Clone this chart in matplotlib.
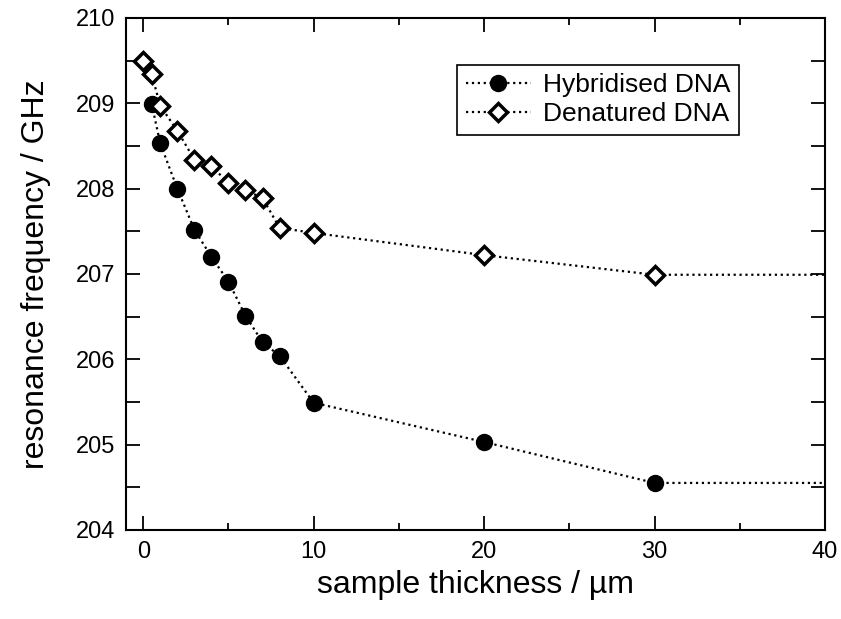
import matplotlib
matplotlib.use("Agg")
import matplotlib.pyplot as plt
from matplotlib.ticker import MultipleLocator

plt.rcParams['font.family'] = ['Liberation Sans', 'DejaVu Sans']

# Data
hyb_x = [0.5, 1, 2, 3, 4, 5, 6, 7, 8, 10, 20, 30]
hyb_y = [208.99, 208.53, 208.00, 207.52, 207.20, 206.91, 206.51, 206.20, 206.04, 205.49, 205.03, 204.55]
den_x = [0, 0.5, 1, 2, 3, 4, 5, 6, 7, 8, 10, 20, 30]
den_y = [209.50, 209.34, 208.97, 208.68, 208.34, 208.26, 208.07, 207.98, 207.89, 207.54, 207.48, 207.22, 206.99]
x_end = 40  # lines continue flat to the edge of the axis
labels = ["Hybridised DNA", "Denatured DNA"]

fig = plt.figure(figsize=(8.41, 6.19), dpi=100)
ax = fig.add_axes([0.150, 0.144, 0.831, 0.827])

ax.plot(hyb_x + [x_end], hyb_y + [hyb_y[-1]], linestyle=':', color='black', lw=1.6,
        marker='o', markersize=11.5, markerfacecolor='black', markeredgecolor='black',
        markevery=list(range(len(hyb_x))), label=labels[0], zorder=3)
ax.plot(den_x + [x_end], den_y + [den_y[-1]], linestyle=':', color='black', lw=1.6,
        marker='D', markersize=9.5, markerfacecolor='white', markeredgecolor='black',
        markeredgewidth=2.5, markevery=list(range(len(den_x))), label=labels[1], zorder=4)

ax.set_xlim(-1, 40)
ax.set_ylim(204, 210)

ax.xaxis.set_major_locator(MultipleLocator(10))
ax.xaxis.set_minor_locator(MultipleLocator(5))
ax.yaxis.set_major_locator(MultipleLocator(1))
ax.yaxis.set_minor_locator(MultipleLocator(0.5))

ax.tick_params(which='both', direction='in', top=True, right=True, width=1.3, labelsize=17)
ax.tick_params(axis='x', which='major', length=10, pad=8)
ax.tick_params(axis='x', which='minor', length=5)
ax.tick_params(axis='y', which='both', length=10, pad=8)

for s in ax.spines.values():
    s.set_linewidth(1.5)

ax.set_xlabel("sample thickness / µm", fontsize=23, labelpad=5)
ax.set_ylabel("resonance frequency / GHz", fontsize=23, labelpad=18)

leg = ax.legend(loc='upper left', bbox_to_anchor=(0.4735, 0.908), fontsize=19, frameon=True,
                fancybox=False, edgecolor='black', framealpha=1, handlelength=2.5,
                borderpad=0.32, labelspacing=0.18, handletextpad=0.45, markerscale=1.0,
                borderaxespad=0)
leg.get_frame().set_linewidth(1.2)

fig.savefig("out.png", dpi=100)
